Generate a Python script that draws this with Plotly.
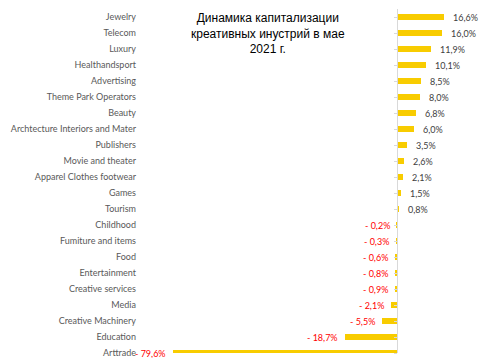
import plotly.graph_objects as go

categories = ["Jewelry", "Telecom", "Luxury", "Healthandsport", "Advertising",
              "Theme Park Operators", "Beauty", "Archtecture Interiors and Mater",
              "Publishers", "Movie and theater", "Apparel Clothes footwear", "Games",
              "Tourism", "Childhood", "Fumiture and items", "Food", "Entertainment",
              "Creative services", "Media", "Creative Machinery", "Education", "Arttrade"]
values = [16.6, 16.0, 11.9, 10.1, 8.5, 8.0, 6.8, 6.0, 3.5, 2.6, 2.1, 1.5, 0.8,
          -0.2, -0.3, -0.6, -0.8, -0.9, -2.1, -5.5, -18.7, -79.6]
title_lines = ["Динамика капитализации", "креативных инустрий в мае", "2021 г."]

BAR = "#F8CC00"
XR = [-91.5, 30.2]

def fmt(v):
    s = f"{abs(v):.1f}".replace(".", ",") + "%"
    return s if v >= 0 else "- " + s

fig = go.Figure()
fig.add_trace(go.Bar(x=values, y=categories, orientation="h", width=0.32,
                     marker=dict(color=BAR, line=dict(width=0)),
                     hoverinfo="skip"))
# invisible trace for the zero axis
fig.add_trace(go.Scatter(x=[0] * len(categories), y=categories, yaxis="y2",
                         mode="markers", marker=dict(opacity=0), hoverinfo="skip",
                         showlegend=False))

annotations = []
for c, v in zip(categories, values):
    pos = v >= 0
    annotations.append(dict(x=v, y=c, xref="x", yref="y", text=fmt(v), showarrow=False,
                            xanchor="left" if pos else "right",
                            xshift=7 if pos else -5,
                            font=dict(family="Lato", size=9,
                                      color="#404040" if pos else "#FF0000")))
annotations.append(dict(x=(268 - 140) / 342, y=1.0, xref="paper", yref="paper",
                        xanchor="center", yanchor="top", showarrow=False,
                        text="<br>".join(title_lines),
                        font=dict(family="Liberation Sans", size=12, color="#000000")))

pos0 = (0 - XR[0]) / (XR[1] - XR[0])
fig.update_layout(
    width=492, height=358,
    margin=dict(l=140, r=10, t=9, b=5, autoexpand=False),
    paper_bgcolor="white", plot_bgcolor="white",
    showlegend=False, bargap=0,
    xaxis=dict(range=XR, showgrid=False, zeroline=False, showticklabels=False,
               showline=False, ticks=""),
    yaxis=dict(type="category", categoryorder="array", categoryarray=categories,
               range=[21.0, -0.5], showgrid=False, zeroline=False, showline=False,
               ticks="", ticklen=0, ticklabelstandoff=3,
               tickfont=dict(family="Lato", size=9, color="#595959")),
    yaxis2=dict(type="category", categoryorder="array", categoryarray=categories,
                range=[21.0, -0.5], overlaying="y", anchor="free", position=pos0,
                side="left", showline=True, linecolor="#D9D9D9", linewidth=1,
                ticks="outside", ticklen=3, tickcolor="#D9D9D9",
                showticklabels=False, showgrid=False, zeroline=False),
    annotations=annotations,
)
fig.write_html("out.html", config={"displayModeBar": False},
               post_script="document.body.style.margin='0';")
